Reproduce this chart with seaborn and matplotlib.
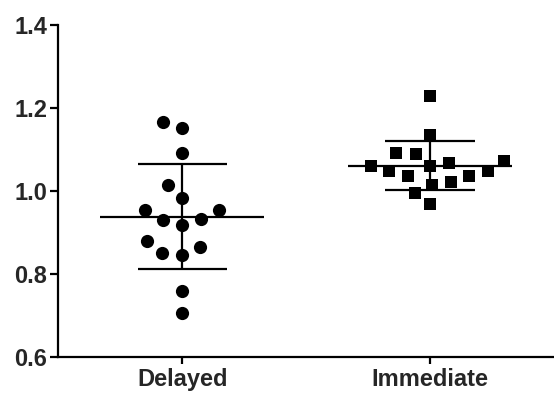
import matplotlib
matplotlib.use("Agg")
import matplotlib.pyplot as plt
from matplotlib.collections import PathCollection
import pandas as pd
import numpy as np
import seaborn as sns
from seaborn.categorical import Beeswarm

# datos
grupos = ["Delayed", "Immediate"]
delayed = [1.152, 1.167, 1.092, 1.014, 0.982, 0.953, 0.954, 0.930,
           0.932, 0.918, 0.866, 0.880, 0.846, 0.850, 0.760, 0.705]
immediate = [1.229, 1.135, 1.091, 1.089, 1.073, 1.067, 1.060, 1.061,
             1.049, 1.047, 1.037, 1.037, 1.022, 1.014, 0.996, 0.969]
y_ticks = [0.6, 0.8, 1.0, 1.2, 1.4]

df = pd.DataFrame({
    "grupo": ["Delayed"] * len(delayed) + ["Immediate"] * len(immediate),
    "valor": delayed + immediate,
})
resumen = df.groupby("grupo")["valor"].agg(["mean", "std"]).reindex(grupos)


def ensanchar(col, centro, factor):
    # el swarm se calcula con marcadores mas grandes para separar mas los puntos
    tam = col.get_sizes().copy()
    bee = Beeswarm(orient="x", width=0.8)

    def draw(renderer):
        col.set_sizes(tam * factor ** 2)
        bee(col, centro)
        col.set_sizes(tam)
        PathCollection.draw(col, renderer)
    col.draw = draw


sns.set_style("ticks")
plt.rcParams["font.family"] = ["Liberation Sans", "DejaVu Sans"]

fig = plt.figure(figsize=(5.54, 3.94), dpi=100)
ax = fig.add_axes([0.105, 0.094, 0.895, 0.843])

marcas = {"Delayed": ("o", 9.5, 1.45), "Immediate": ("s", 8.5, 1.55)}
for i, g in enumerate(grupos):
    mk, sz, fac = marcas[g]
    n_antes = len(ax.collections)
    sns.swarmplot(data=df[df.grupo == g], x="grupo", y="valor", order=grupos,
                  color="black", marker=mk, size=sz, ax=ax, zorder=3)
    for col in ax.collections[n_antes:]:
        if len(col.get_offsets()) > 0:
            ensanchar(col, i, fac)

# media y desviacion estandar
for i, g in enumerate(grupos):
    m, s = resumen.loc[g, "mean"], resumen.loc[g, "std"]
    ax.hlines(m, i - 0.33, i + 0.33, color="black", lw=1.6, zorder=2)
    ax.hlines([m - s, m + s], i - 0.18, i + 0.18, color="black", lw=1.6, zorder=2)
    ax.vlines(i, m - s, m + s, color="black", lw=1.6, zorder=2)

ax.set_xlim(-0.5, 1.5)
ax.set_ylim(0.6, 1.4)
ax.set_yticks(y_ticks)
ax.set_yticklabels([f"{t:.1f}" for t in y_ticks])
ax.set_xlabel("")
ax.set_ylabel("")
sns.despine(ax=ax)
for sp in ["left", "bottom"]:
    ax.spines[sp].set_linewidth(1.6)
    ax.spines[sp].set_color("black")
ax.tick_params(axis="y", length=6, width=1.6, color="black", labelsize=17, pad=2)
ax.tick_params(axis="x", length=5, width=1.6, color="black", labelsize=17, pad=3)
for lab in ax.get_xticklabels() + ax.get_yticklabels():
    lab.set_fontweight("bold")

fig.savefig("out.png", dpi=100)
